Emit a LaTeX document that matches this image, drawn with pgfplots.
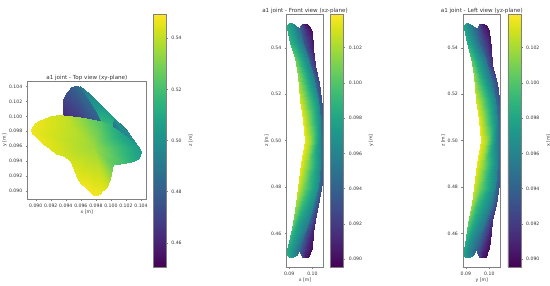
\documentclass[border=0pt]{standalone}
\usepackage{fontspec}
\setmainfont{DejaVu Sans}
\usepackage{pgfplots}
\pgfplotsset{compat=1.18}
\newcommand{\tf}{\fontsize{4.6}{5}\selectfont}
\newcommand{\ttf}{\fontsize{5.6}{6}\selectfont}
\pgfkeys{/pgf/number format/assume math mode=true}
\definecolor{fr}{gray}{0.5}
\definecolor{tx}{gray}{0.2}
\pgfplotsset{
  every axis/.append style={
    scale only axis,
    axis line style={line width=0.6pt,draw=fr},
    tick style={line width=0.3pt,fr},
    major tick length=1.9pt,
    tick align=outside,
    tick label style={font=\tf,text=tx},
    label style={font=\tf,text=tx},
    title style={font=\ttf,text=tx,yshift=-8.5pt},
    xtick pos=bottom, ytick pos=left,
    scaled ticks=false,
    xlabel style={yshift=4.5pt},
    ylabel style={yshift=-4.5pt},
    colormap name=viridis,
    /pgf/number format/fixed,
    /pgf/number format/fixed zerofill,
    axis on top,
  },
  lay/.style={surf,shader=interp,point meta=explicit},
  cbz/.style={
    colorbar,
    point meta min=0.4505, point meta max=0.5495,
    colorbar style={
      at={(1.0617,-0.579)}, anchor=south west, width=12.7pt, height=253pt,
      ytick={0.46,0.48,0.50,0.52,0.54},
      /pgf/number format/precision=2,
      ylabel={z [m]}, ylabel style={yshift=4.5pt},
      yticklabel pos=right, ytick pos=right,
    }},
  cbs/.style 2 args={
    colorbar,
    point meta min=0.08955, point meta max=0.10391,
    colorbar style={
      at={(#1,0)}, anchor=south west, width=12.8pt, height=253pt,
      ytick={0.090,0.092,0.094,0.096,0.098,0.100,0.102},
      /pgf/number format/precision=3,
      ylabel={#2}, ylabel style={yshift=4.5pt},
      yticklabel pos=right, ytick pos=right,
    }},
}
\begin{document}
\begin{tikzpicture}
\useasboundingbox (0,0) rectangle (550pt,286pt);
% ---------- Top view
\begin{axis}[at={(27.7pt,87pt)},anchor=south west,width=118.3pt,height=117.5pt,
  xmin=0.08893,xmax=0.10467,ymin=0.08893,ymax=0.10467,
  xtick={0.090,0.092,0.094,0.096,0.098,0.100,0.102,0.104},
  ytick={0.090,0.092,0.094,0.096,0.098,0.100,0.102,0.104},
  /pgf/number format/precision=3,
  title={a1 joint - Top view (xy-plane)},xlabel={x [m]},ylabel={y [m]},cbz]
\addplot[lay,mesh/cols=2] table[x=x,y=y,meta=c]{
x y c
0.09363 0.09990 0.462
0.09363 0.10222 0.470
0.09381 0.09988 0.462
0.09381 0.10266 0.472
0.09408 0.09985 0.463
0.09408 0.10315 0.474
0.09439 0.09983 0.464
0.09439 0.10355 0.476
0.09474 0.09981 0.465
0.09474 0.10391 0.479
0.09505 0.09981 0.466
0.09505 0.10404 0.481
0.09585 0.09967 0.468
0.09532 0.10409 0.483
0.09651 0.09945 0.471
0.09567 0.10404 0.485
0.09718 0.09923 0.474
0.09607 0.10391 0.487
0.09851 0.09901 0.479
0.09718 0.10302 0.492
0.09939 0.09878 0.482
0.09851 0.10168 0.497
0.10028 0.09856 0.485
0.10028 0.09990 0.500
0.10205 0.09678 0.495
0.10205 0.09834 0.497
0.10405 0.09535 0.505
0.10405 0.09535 0.505
};
\addplot[lay,mesh/cols=2] table[x=x,y=y,meta=c]{
x y c
0.09585 0.10400 0.490
0.09585 0.10400 0.490
0.09696 0.10248 0.497
0.09718 0.10302 0.497
0.09784 0.10092 0.504
0.09851 0.10168 0.501
0.09873 0.09932 0.516
0.09939 0.10079 0.505
0.10019 0.09869 0.516
0.10028 0.09990 0.507
};
\addplot[lay,mesh/cols=2] table[x=x,y=y,meta=c]{
x y c
0.09762 0.09589 0.535
0.08942 0.09811 0.547
0.09762 0.09589 0.535
0.08951 0.09856 0.547
0.09762 0.09589 0.535
0.08987 0.09909 0.547
0.09762 0.09589 0.535
0.09053 0.09954 0.546
0.09762 0.09589 0.535
0.09120 0.09981 0.545
0.09762 0.09589 0.535
0.09186 0.09999 0.544
0.09762 0.09589 0.535
0.09275 0.10012 0.543
0.09762 0.09589 0.535
0.09363 0.10021 0.541
0.09762 0.09589 0.535
0.09585 0.09990 0.533
0.09762 0.09589 0.535
0.09740 0.09959 0.527
0.09762 0.09589 0.535
0.09873 0.09932 0.522
0.09762 0.09589 0.535
0.10019 0.09869 0.514
0.09762 0.09589 0.535
0.10161 0.09758 0.507
0.09762 0.09589 0.535
0.10294 0.09655 0.505
0.09762 0.09589 0.535
0.10360 0.09597 0.505
0.09762 0.09589 0.535
0.10405 0.09535 0.505
0.09762 0.09589 0.535
0.10391 0.09477 0.506
0.09762 0.09589 0.535
0.10360 0.09432 0.508
0.09762 0.09589 0.535
0.10329 0.09410 0.510
0.09762 0.09589 0.535
0.10272 0.09388 0.514
0.09762 0.09589 0.535
0.10205 0.09374 0.518
0.09762 0.09589 0.535
0.10117 0.09366 0.521
0.09762 0.09589 0.535
0.10028 0.09357 0.524
0.09762 0.09589 0.535
0.10015 0.09299 0.528
0.09762 0.09589 0.535
0.10006 0.09232 0.532
0.09762 0.09589 0.535
0.09988 0.09165 0.536
0.09762 0.09589 0.535
0.09961 0.09098 0.541
0.09762 0.09589 0.535
0.09930 0.09045 0.544
0.09762 0.09589 0.535
0.09873 0.08987 0.547
0.09762 0.09589 0.535
0.09851 0.08955 0.547
0.09762 0.09589 0.535
0.09806 0.08938 0.548
0.09762 0.09589 0.535
0.09762 0.08951 0.548
0.09762 0.09589 0.535
0.09718 0.08987 0.548
0.09762 0.09589 0.535
0.09665 0.09036 0.548
0.09762 0.09589 0.535
0.09607 0.09098 0.547
0.09762 0.09589 0.535
0.09567 0.09152 0.546
0.09762 0.09589 0.535
0.09532 0.09210 0.546
0.09762 0.09589 0.535
0.09505 0.09276 0.545
0.09762 0.09589 0.535
0.09487 0.09343 0.544
0.09762 0.09589 0.535
0.09465 0.09388 0.543
0.09762 0.09589 0.535
0.09430 0.09432 0.543
0.09762 0.09589 0.535
0.09363 0.09464 0.543
0.09762 0.09589 0.535
0.09275 0.09499 0.544
0.09762 0.09589 0.535
0.09186 0.09562 0.545
0.09762 0.09589 0.535
0.09097 0.09633 0.546
0.09762 0.09589 0.535
0.09044 0.09678 0.547
0.09762 0.09589 0.535
0.08987 0.09731 0.547
0.09762 0.09589 0.535
0.08951 0.09767 0.547
0.09762 0.09589 0.535
0.08942 0.09811 0.547
};
\end{axis}
% ---------- Front view
\begin{axis}[at={(286.7pt,19pt)},anchor=south west,width=36.6pt,height=252.3pt,
  xmin=0.08893,xmax=0.10467,ymin=0.4455,ymax=0.5542,
  xtick={0.09,0.10},ytick={0.46,0.48,0.50,0.52,0.54},
  /pgf/number format/precision=2,
  title={a1 joint - Front view (xz-plane)},xlabel={x [m]},ylabel={z [m]},
  cbs={1.202}{y [m]}]
\addplot[lay,mesh/cols=3] table[x=x,y=y,meta=c]{
x y c
0.09551 0.55029 0.0925
0.09652 0.55029 0.0905
0.09752 0.55029 0.0900
0.09479 0.54943 0.0935
0.09680 0.54943 0.0910
0.09867 0.54943 0.0900
0.09422 0.54698 0.0945
0.09723 0.54698 0.0915
0.09968 0.54698 0.0900
0.09465 0.53980 0.0955
0.09824 0.53980 0.0925
0.10039 0.53980 0.0905
0.09608 0.53261 0.0965
0.09896 0.53261 0.0940
0.10111 0.53261 0.0915
0.09680 0.52471 0.0975
0.10039 0.52471 0.0955
0.10298 0.52471 0.0925
0.09680 0.51466 0.0985
0.10039 0.51466 0.0965
0.10427 0.51466 0.0935
0.09680 0.50603 0.0990
0.10039 0.50603 0.0970
0.10442 0.50603 0.0945
0.09680 0.50000 0.0990
0.10039 0.50000 0.0970
0.10399 0.50000 0.0950
0.09680 0.49310 0.0990
0.10039 0.49310 0.0970
0.10442 0.49310 0.0945
0.09680 0.48448 0.0985
0.10039 0.48448 0.0965
0.10442 0.48448 0.0935
0.09680 0.47230 0.0975
0.10039 0.47230 0.0955
0.10255 0.47230 0.0925
0.09608 0.46580 0.0965
0.09896 0.46580 0.0940
0.10111 0.46580 0.0915
0.09465 0.46006 0.0955
0.09824 0.46006 0.0925
0.10039 0.46006 0.0905
0.09422 0.45359 0.0945
0.09709 0.45359 0.0915
0.09968 0.45359 0.0900
0.09465 0.45144 0.0935
0.09680 0.45144 0.0910
0.09896 0.45144 0.0900
0.09537 0.44971 0.0925
0.09680 0.44971 0.0905
0.09824 0.44971 0.0900
};
\addplot[lay,mesh/cols=3] table[x=x,y=y,meta=c]{
x y c
0.09005 0.55057 0.0985
0.09048 0.55057 0.0975
0.09106 0.55057 0.0970
0.08919 0.54986 0.0985
0.09062 0.54986 0.0972
0.09249 0.54986 0.0955
0.08919 0.54842 0.0985
0.09149 0.54842 0.0970
0.09422 0.54842 0.0945
0.09034 0.54195 0.0990
0.09292 0.54195 0.0975
0.09580 0.54195 0.0950
0.09249 0.53549 0.1005
0.09465 0.53549 0.0985
0.09824 0.53549 0.0955
0.09393 0.52830 0.1015
0.09608 0.52830 0.0995
0.10039 0.52830 0.0955
0.09465 0.51753 0.1030
0.09752 0.51753 0.1005
0.10255 0.51753 0.0965
0.09580 0.50891 0.1035
0.09824 0.50891 0.1015
0.10327 0.50891 0.0965
0.09680 0.50000 0.1035
0.09896 0.50000 0.1020
0.10356 0.50000 0.0960
0.09508 0.49023 0.1035
0.09752 0.49023 0.1015
0.10327 0.49023 0.0965
0.09393 0.48017 0.1030
0.09680 0.48017 0.1005
0.10255 0.48017 0.0965
0.09292 0.47299 0.1020
0.09537 0.47299 0.0995
0.10039 0.47299 0.0965
0.09149 0.46437 0.1005
0.09393 0.46437 0.0980
0.09824 0.46437 0.0955
0.09034 0.45862 0.0990
0.09249 0.45862 0.0975
0.09608 0.45862 0.0950
0.08919 0.45287 0.0985
0.09106 0.45287 0.0970
0.09422 0.45287 0.0945
0.08890 0.45072 0.0985
0.09062 0.45072 0.0972
0.09321 0.45072 0.0955
0.08976 0.44971 0.0985
0.09062 0.44971 0.0975
0.09177 0.44971 0.0970
};
\end{axis}
% ---------- Left view
\begin{axis}[at={(463.3pt,19pt)},anchor=south west,width=37pt,height=252.3pt,
  xmin=0.08893,xmax=0.10467,ymin=0.4455,ymax=0.5542,
  xtick={0.09,0.10},ytick={0.46,0.48,0.50,0.52,0.54},
  /pgf/number format/precision=2,
  title={a1 joint - Left view (yz-plane)},xlabel={y [m]},ylabel={z [m]},
  cbs={1.208}{x [m]}]
\addplot[lay,mesh/cols=3] table[x=x,y=y,meta=c]{
x y c
0.09571 0.55029 0.0925
0.09672 0.55029 0.0905
0.09772 0.55029 0.0900
0.09499 0.54943 0.0935
0.09700 0.54943 0.0910
0.09887 0.54943 0.0900
0.09442 0.54698 0.0945
0.09743 0.54698 0.0915
0.09988 0.54698 0.0900
0.09485 0.53980 0.0955
0.09844 0.53980 0.0925
0.10059 0.53980 0.0905
0.09628 0.53261 0.0965
0.09916 0.53261 0.0940
0.10131 0.53261 0.0915
0.09700 0.52471 0.0975
0.10059 0.52471 0.0955
0.10318 0.52471 0.0925
0.09700 0.51466 0.0985
0.10059 0.51466 0.0965
0.10437 0.51466 0.0935
0.09700 0.50603 0.0990
0.10059 0.50603 0.0970
0.10455 0.50603 0.0945
0.09700 0.50000 0.0990
0.10059 0.50000 0.0970
0.10412 0.50000 0.0950
0.09700 0.49310 0.0990
0.10059 0.49310 0.0970
0.10455 0.49310 0.0945
0.09700 0.48448 0.0985
0.10059 0.48448 0.0965
0.10437 0.48448 0.0935
0.09700 0.47230 0.0975
0.10059 0.47230 0.0955
0.10275 0.47230 0.0925
0.09628 0.46580 0.0965
0.09916 0.46580 0.0940
0.10131 0.46580 0.0915
0.09485 0.46006 0.0955
0.09844 0.46006 0.0925
0.10059 0.46006 0.0905
0.09442 0.45359 0.0945
0.09729 0.45359 0.0915
0.09988 0.45359 0.0900
0.09485 0.45144 0.0935
0.09700 0.45144 0.0910
0.09916 0.45144 0.0900
0.09557 0.44971 0.0925
0.09700 0.44971 0.0905
0.09844 0.44971 0.0900
};
\addplot[lay,mesh/cols=3] table[x=x,y=y,meta=c]{
x y c
0.09005 0.55057 0.0980
0.09048 0.55057 0.0970
0.09106 0.55057 0.0965
0.08919 0.54986 0.0980
0.09062 0.54986 0.0967
0.09249 0.54986 0.0950
0.08919 0.54842 0.0980
0.09149 0.54842 0.0965
0.09422 0.54842 0.0940
0.09034 0.54195 0.0985
0.09272 0.54195 0.0970
0.09560 0.54195 0.0945
0.09229 0.53549 0.1000
0.09445 0.53549 0.0980
0.09804 0.53549 0.0950
0.09353 0.52830 0.1015
0.09568 0.52830 0.0990
0.10019 0.52830 0.0950
0.09425 0.51753 0.1030
0.09712 0.51753 0.1005
0.10235 0.51753 0.0960
0.09540 0.50891 0.1035
0.09784 0.50891 0.1015
0.10307 0.50891 0.0960
0.09630 0.50000 0.1035
0.09846 0.50000 0.1020
0.10336 0.50000 0.0955
0.09468 0.49023 0.1035
0.09712 0.49023 0.1015
0.10307 0.49023 0.0960
0.09353 0.48017 0.1030
0.09640 0.48017 0.1005
0.10235 0.48017 0.0960
0.09252 0.47299 0.1020
0.09497 0.47299 0.0995
0.10019 0.47299 0.0960
0.09109 0.46437 0.1005
0.09353 0.46437 0.0980
0.09804 0.46437 0.0950
0.09014 0.45862 0.0990
0.09229 0.45862 0.0970
0.09588 0.45862 0.0945
0.08919 0.45287 0.0980
0.09106 0.45287 0.0965
0.09422 0.45287 0.0940
0.08900 0.45072 0.0980
0.09062 0.45072 0.0967
0.09321 0.45072 0.0950
0.08976 0.44971 0.0980
0.09062 0.44971 0.0970
0.09177 0.44971 0.0965
};
\end{axis}
\end{tikzpicture}
\end{document}
